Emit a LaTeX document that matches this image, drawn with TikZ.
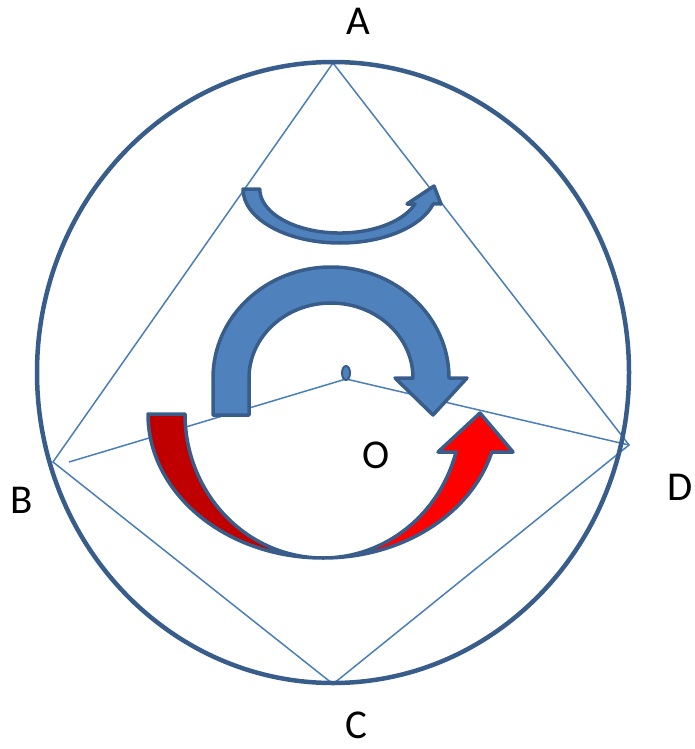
\documentclass[tikz,border=0pt]{standalone}
\usepackage{fontspec}
\setmainfont{Carlito}
\definecolor{rim}{HTML}{385D8A}
\definecolor{edge}{HTML}{4A7EBB}
\definecolor{fillblue}{HTML}{4F81BD}
\definecolor{darkred}{HTML}{C00000}

\begin{document}
\begin{tikzpicture}[x=1pt,y=-1pt,
    chord/.style={edge, line width=1.5pt},
    bent/.style={draw=rim, line width=3.5pt, line join=round},
    letter/.style={font=\fontsize{41}{49}\selectfont, inner sep=0pt}]
    \useasboundingbox (0,0) rectangle (694,749);

    % Corners of the quadrilateral
    \coordinate (pA) at (333,63);
    \coordinate (pB) at (53,462);
    \coordinate (pC) at (333,684);
    \coordinate (pD) at (629,445);
    \coordinate (pO) at (346,379);
    \coordinate (bend) at (69,462);

    % Quadrilateral and radii
    \draw[chord] (pA) -- (pB) -- (pC) -- (pD) -- cycle;
    \draw[chord] (bend) -- (pO) -- (pD);

    % Circle
    \draw[rim, line width=4.5pt] (333,372.5) ellipse [x radius=296, y radius=310.5];

    % Centre point
    \filldraw[fill=fillblue, draw=rim, line width=2pt] (346,373) ellipse [x radius=4, y radius=7];

    % Small arrow at the top
    \filldraw[bent, fill=fillblue] (243,189) arc[start angle=180, end angle=16.1, x radius=97, y radius=54]
        -- (441,204) -- (434,186) -- (407,204) -- (415,204)
        arc[start angle=19.9, end angle=180, x radius=80, y radius=44] -- cycle;

    % Big arch arrow
    \filldraw[bent, fill=fillblue] (213,415) -- (213,378)
        arc[start angle=180, end angle=360, x radius=118, y radius=111]
        -- (467,378) -- (433,415) -- (395,378) -- (413,378)
        arc[start angle=0, end angle=-180, x radius=82, y radius=75] -- (249,415) -- cycle;

    % Red arrow, left half
    \filldraw[bent, fill=darkred] (148,414) arc[start angle=180, end angle=90, x radius=175, y radius=144]
        arc[start angle=90, end angle=180, x radius=138, y radius=144] -- cycle;

    % Red arrow, right half
    \filldraw[bent, fill=red] (323,558) arc[start angle=90, end angle=15.3, x radius=175, y radius=144]
        -- (513,452) -- (480,413) -- (438,452) -- (456,452)
        arc[start angle=15.3, end angle=90, x radius=138, y radius=144] -- cycle;

    % Labels
    \node[letter] (A) at (358,21) {A};
    \node[letter] (B) at (22,500) {B};
    \node[letter] (C) at (356,725) {C};
    \node[letter] (D) at (680,487) {D};
    \node[letter] (O) at (376,455) {O};
\end{tikzpicture}
\end{document}
